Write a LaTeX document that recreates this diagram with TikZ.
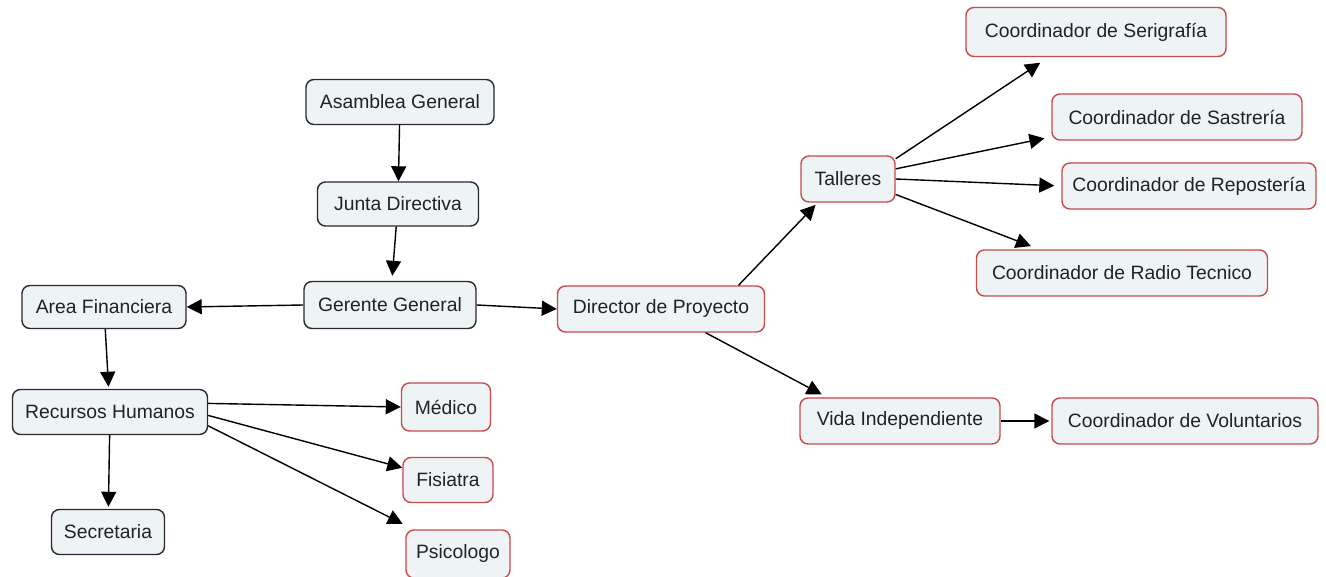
\documentclass[tikz,border=0pt]{standalone}
\usepackage{fontspec}
\setmainfont{Liberation Sans}
\usetikzlibrary{arrows.meta}
\newdimen\pxu \pxu=0.02cm
\definecolor{boxfill}{HTML}{EEF3F6}
\definecolor{redline}{HTML}{C84A4A}
\definecolor{darkline}{HTML}{2A2A2A}
\definecolor{txt}{HTML}{222222}
\tikzset{
  cbox/.style={draw=darkline, fill=boxfill, rounded corners=8\pxu, line width=0.8pt,
     inner sep=0pt, font=\fontsize{11}{13}\selectfont, text=txt},
  bk/.style={cbox},
  rd/.style={cbox, draw=redline},
  conn/.style={line width=0.8pt, -{Triangle[length=0.3cm,width=0.3cm]}},
}
\begin{document}
\begin{tikzpicture}[x=0.02cm,y=-0.02cm]
\useasboundingbox[fill=white] (0,0) rectangle (1326,577);
% left (black border) nodes
\node[bk, minimum width=188\pxu, minimum height=45\pxu] (asm) at (400,102) {Asamblea General};
\node[bk, minimum width=161\pxu, minimum height=44\pxu] (jun) at (398,204) {Junta Directiva};
\node[bk, minimum width=172\pxu, minimum height=47\pxu] (ger) at (390,305) {Gerente General};
\node[bk, minimum width=164\pxu, minimum height=43\pxu] (are) at (104,307) {Area Financiera};
\node[bk, minimum width=195\pxu, minimum height=45\pxu] (rh) at (110,412) {Recursos Humanos};
\node[bk, minimum width=113\pxu, minimum height=45\pxu] (sec) at (108,532) {Secretaria};
% red border nodes
\node[rd, minimum width=89\pxu, minimum height=48\pxu] (med) at (446,407) {Médico};
\node[rd, minimum width=90\pxu, minimum height=45\pxu] (fis) at (448,480) {Fisiatra};
\node[rd, minimum width=104\pxu, minimum height=48\pxu] (psi) at (458,554) {Psicologo};
\node[rd, minimum width=207\pxu, minimum height=46\pxu] (dir) at (661,309) {Director de Proyecto};
\node[rd, minimum width=94\pxu, minimum height=46\pxu] (tal) at (848,179) {Talleres};
\node[rd, minimum width=200\pxu, minimum height=46\pxu] (vid) at (900,421) {Vida Independiente};
\node[rd, minimum width=266\pxu, minimum height=46\pxu] (vol) at (1185,421) {Coordinador de Voluntarios};
\node[rd, minimum width=260\pxu, minimum height=49\pxu] (ser) at (1096,32) {Coordinador de Serigrafía};
\node[rd, minimum width=250\pxu, minimum height=46\pxu] (sas) at (1177,117) {Coordinador de Sastrería};
\node[rd, minimum width=254\pxu, minimum height=46\pxu] (rep) at (1189,186) {Coordinador de Repostería};
\node[rd, minimum width=291\pxu, minimum height=46\pxu] (rad) at (1122,273) {Coordinador de Radio Tecnico};
% connectors
\draw[conn] (asm) -- (jun);
\draw[conn, shorten >=0.1cm] (jun) -- (ger);
\draw[conn] (ger.west) -- (are.east);
\draw[conn] (ger.east) -- (dir.west);
\draw[conn, shorten >=0.04cm] (are) -- (rh);
\draw[conn, shorten >=0.04cm] (rh) -- (sec);
\draw[conn] (rh.5) -- (med.west);
\draw[conn] (rh.-2) -- (fis.165);
\draw[conn, shorten >=0.24cm] (rh.-8) -- (psi.151);
\draw[conn, shorten >=0.06cm] (dir.17) -- (tal.218);
\draw[conn, shorten >=0.12cm] (dir.-28) -- (vid.162);
\draw[conn, shorten >=0.2cm] (tal.23) -- (ser.208);
\draw[conn, shorten >=0.14cm] (tal.12) -- (sas.189);
\draw[conn, shorten >=0.14cm] (tal.east) -- (rep.west);
\draw[conn, shorten >=0.18cm] (tal.-18) -- (rad.164);
\draw[conn, shorten >=0.04cm] (vid.east) -- (vol.west);
\end{tikzpicture}
\end{document}
